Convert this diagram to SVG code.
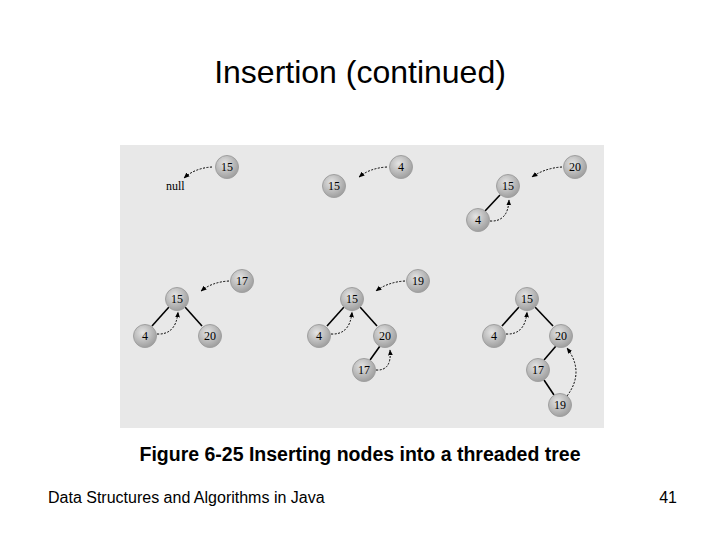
<svg xmlns="http://www.w3.org/2000/svg" width="720" height="540" viewBox="0 0 720 540">
<defs>
<radialGradient id="g" cx="0.4" cy="0.35" r="0.7"><stop offset="0" stop-color="#e4e4e4"/><stop offset="1" stop-color="#9a9a9a"/></radialGradient>
<marker id="a" viewBox="0 0 10 10" refX="9" refY="5" markerWidth="6" markerHeight="6" orient="auto"><path d="M0,1 L10,5 L0,9 z" fill="#000"/></marker>
</defs>
<style>
.n circle{fill:url(#g);stroke:#a0a0a0;stroke-width:1}
.n text{font-family:"Liberation Serif",serif;font-size:12px;text-anchor:middle;dominant-baseline:central;fill:#000}
.e{stroke:#000;stroke-width:1.6;fill:none}
.d{stroke:#000;stroke-width:1;stroke-dasharray:2,1.5;fill:none;marker-end:url(#a)}
</style>
<rect width="720" height="540" fill="#fff"/>
<text x="360" y="83" font-family="Liberation Sans,sans-serif" font-size="32" text-anchor="middle">Insertion (continued)</text>
<rect x="120" y="145" width="484" height="283" fill="#e8e8e8"/>
<g id="connectors">
<path class="d" d="M212,167 Q195,168 184,178"/>
<path class="d" d="M387,167 Q370,168 359,177"/>
<path class="d" d="M562,167 Q545,168 532,177"/>
<line class="e" x1="500" y1="195" x2="485" y2="211"/>
<path class="d" d="M490,221 Q508,222 509,200"/>
<path class="d" d="M229,281 Q212,282 201,291"/>
<line class="e" x1="169" y1="307" x2="152" y2="326"/>
<line class="e" x1="185" y1="307" x2="202" y2="326"/>
<path class="d" d="M157,334 Q176,335 178,312"/>
<path class="d" d="M405,281 Q388,282 376,291"/>
<line class="e" x1="344" y1="307" x2="327" y2="326"/>
<line class="e" x1="360" y1="307" x2="377" y2="326"/>
<path class="d" d="M331,334 Q350,335 352,312"/>
<line class="e" x1="380" y1="346" x2="370" y2="360"/>
<path class="d" d="M376,370 Q392,371 390,350"/>
<line class="e" x1="519" y1="307" x2="502" y2="326"/>
<line class="e" x1="535" y1="307" x2="553" y2="326"/>
<path class="d" d="M506,334 Q525,335 527,312"/>
<line class="e" x1="556" y1="346" x2="544" y2="360"/>
<line class="e" x1="544" y1="380" x2="554" y2="395"/>
<path class="d" d="M567,396 Q585,372 567,348"/>
</g>
<text x="166" y="190" font-family="Liberation Serif,serif" font-size="12">null</text>
<g id="p1n15" class="n"><circle cx="227" cy="167" r="11.5"/><text x="227" y="167">15</text></g>
<g id="p2n15" class="n"><circle cx="334" cy="186" r="11.5"/><text x="334" y="186">15</text></g>
<g id="p2n4" class="n"><circle cx="401" cy="167" r="11.5"/><text x="401" y="167">4</text></g>
<g id="p3n20" class="n"><circle cx="575" cy="167" r="11.5"/><text x="575" y="167">20</text></g>
<g id="p3n15" class="n"><circle cx="508" cy="186" r="11.5"/><text x="508" y="186">15</text></g>
<g id="p3n4" class="n"><circle cx="478" cy="220" r="11.5"/><text x="478" y="220">4</text></g>
<g id="p4n17" class="n"><circle cx="242" cy="281" r="11.5"/><text x="242" y="281">17</text></g>
<g id="p4n15" class="n"><circle cx="177" cy="299" r="11.5"/><text x="177" y="299">15</text></g>
<g id="p4n4" class="n"><circle cx="145" cy="336" r="11.5"/><text x="145" y="336">4</text></g>
<g id="p4n20" class="n"><circle cx="210" cy="336" r="11.5"/><text x="210" y="336">20</text></g>
<g id="p5n19" class="n"><circle cx="418" cy="281" r="11.5"/><text x="418" y="281">19</text></g>
<g id="p5n15" class="n"><circle cx="352" cy="299" r="11.5"/><text x="352" y="299">15</text></g>
<g id="p5n4" class="n"><circle cx="319" cy="336" r="11.5"/><text x="319" y="336">4</text></g>
<g id="p5n20" class="n"><circle cx="385" cy="336" r="11.5"/><text x="385" y="336">20</text></g>
<g id="p5n17" class="n"><circle cx="364" cy="370" r="11.5"/><text x="364" y="370">17</text></g>
<g id="p6n15" class="n"><circle cx="527" cy="299" r="11.5"/><text x="527" y="299">15</text></g>
<g id="p6n4" class="n"><circle cx="494" cy="336" r="11.5"/><text x="494" y="336">4</text></g>
<g id="p6n20" class="n"><circle cx="561" cy="336" r="11.5"/><text x="561" y="336">20</text></g>
<g id="p6n17" class="n"><circle cx="538" cy="370" r="11.5"/><text x="538" y="370">17</text></g>
<g id="p6n19" class="n"><circle cx="560" cy="405" r="11.5"/><text x="560" y="405">19</text></g>
<text x="360" y="461" font-family="Liberation Sans,sans-serif" font-size="19.5" font-weight="bold" text-anchor="middle">Figure 6-25 Inserting nodes into a threaded tree</text>
<text x="48" y="503" font-family="Liberation Sans,sans-serif" font-size="16">Data Structures and Algorithms in Java</text>
<text x="677" y="503" font-family="Liberation Sans,sans-serif" font-size="16" text-anchor="end">41</text>
</svg>
